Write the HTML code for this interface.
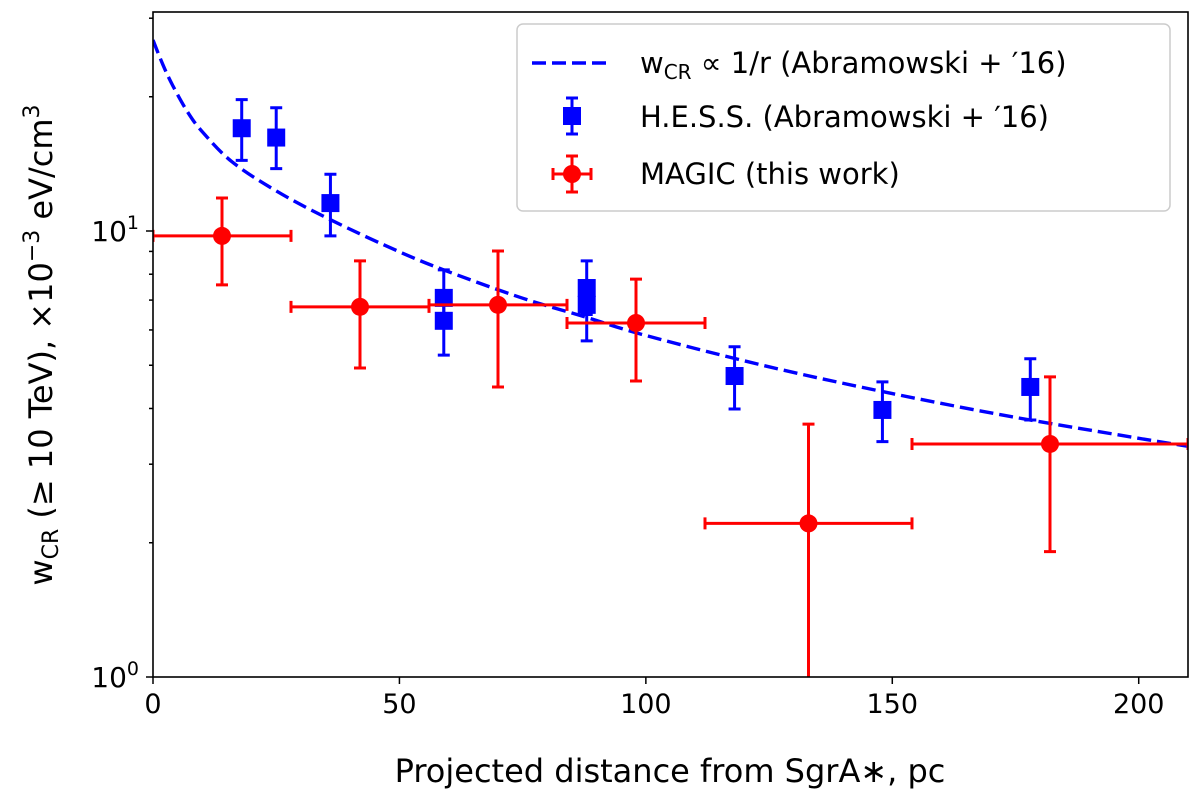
<!DOCTYPE html>
<html><head><meta charset="utf-8"><style>
body{margin:0;background:#fff;}
svg{display:block;font-family:"DejaVu Sans","Liberation Sans",sans-serif;}
</style></head><body>
<svg id="chart" width="1200" height="794">
<g id="plot"></g>
</svg>
<script>
const hessX=[18,25,36,59,59,88,88,118,148,178];
const hessY=[17.0,16.2,11.55,7.08,6.29,7.45,6.83,4.73,3.97,4.47];
const hessHi=[19.7,18.9,13.4,8.18,7.0,8.57,7.6,5.50,4.59,5.17];
const hessLo=[14.4,13.8,9.75,6.3,5.27,6.5,5.67,3.99,3.37,3.77];
const magX=[14,42,70,98,133,182];
const magXlo=[0,28,56,84,112,154];
const magXhi=[28,56,84,112,154,210];
const magY=[9.75,6.76,6.83,6.22,2.21,3.33];
const magHi=[11.86,8.57,9.02,7.80,3.69,4.71];
const magLo=[7.57,4.93,4.47,4.61,0.9,1.91];
const modelR=[0,2,4,7,10,16,25,36,50,60,75,88,100,125,150,175,200,210];
const modelW=[26.8,23.6,21.2,18.5,16.7,14.3,12.3,10.6,8.98,8.1,7.07,6.4,5.83,4.96,4.32,3.82,3.43,3.29];
const xTicks=[0,50,100,150,200];

const L=153,R=1188,T=12,B=677;
const sx=v=>L+(v/210)*(R-L);
const sy=v=>B-Math.log10(v)*446;
const NS="http://www.w3.org/2000/svg";
const svg=document.getElementById('chart');
function mk(t,a,p){const e=document.createElementNS(NS,t);for(const k in a)e.setAttribute(k,a[k]);(p||svg).appendChild(e);return e;}

const defs=mk('defs',{});const cp=mk('clipPath',{id:'c'},defs);mk('rect',{x:L,y:T,width:R-L,height:B-T},cp);
const g=mk('g',{'clip-path':'url(#c)'});



const P=modelR.map((r,i)=>[sx(r),sy(modelW[i])]);
let d='M'+P[0][0]+','+P[0][1];
for(let i=0;i<P.length-1;i++){
 const p0=P[Math.max(0,i-1)],p1=P[i],p2=P[i+1],p3=P[Math.min(P.length-1,i+2)];
 const c1=[p1[0]+(p2[0]-p0[0])/6,p1[1]+(p2[1]-p0[1])/6];
 const c2=[p2[0]-(p3[0]-p1[0])/6,p2[1]-(p3[1]-p1[1])/6];
 d+=`C${c1[0].toFixed(1)},${c1[1].toFixed(1)} ${c2[0].toFixed(1)},${c2[1].toFixed(1)} ${p2[0].toFixed(1)},${p2[1].toFixed(1)}`;
}
const ml=mk('path',{d:d,fill:'none',stroke:'#0000ff','stroke-width':3.4,'stroke-dasharray':'14,6'},g);



hessX.forEach((x,i)=>{
 const cx=sx(x);
 const e=mk('path',{d:`M${cx},${sy(hessHi[i])}V${sy(hessLo[i])}M${cx-6},${sy(hessHi[i])}h12M${cx-6},${sy(hessLo[i])}h12`,stroke:'#0000ff','stroke-width':3,fill:'none'},g);
 
 
 const m=mk('rect',{x:cx-9,y:sy(hessY[i])-9,width:18,height:18,fill:'#0000ff'},g);
 
 
});
magX.forEach((x,i)=>{
 const cx=sx(x),cy=sy(magY[i]);
 const e=mk('path',{d:`M${cx},${sy(magHi[i])}V${sy(magLo[i])}M${cx-6},${sy(magHi[i])}h12M${cx-6},${sy(magLo[i])}h12M${sx(magXlo[i])},${cy}H${sx(magXhi[i])}M${sx(magXlo[i])},${cy-6}v12M${sx(magXhi[i])},${cy-6}v12`,stroke:'#ff0000','stroke-width':3,fill:'none'},g);
 
 
 const m=mk('circle',{cx:cx,cy:cy,r:9,fill:'#ff0000'},g);
 
 
});

const fr=mk('rect',{x:L,y:T,width:R-L,height:B-T,fill:'none',stroke:'#000','stroke-width':1.6});



xTicks.forEach(v=>{
 const x=sx(v);
 mk('line',{x1:x,x2:x,y1:B,y2:B+7,stroke:'#000','stroke-width':1.5});
 const t=mk('text',{x:x,y:B+36,'text-anchor':'middle','font-size':27},svg);t.textContent=v;
 
 
});
for(let dec=0;dec<2;dec++)for(let k=1;k<10;k++){
 const v=k*Math.pow(10,dec);const y=sy(v);if(y<T-1)continue;
 mk('line',{x1:L,x2:L-(k==1?7:4),y1:y,y2:y,stroke:'#000','stroke-width':1.5});
}
[[1,'10','0'],[10,'10','1']].forEach(([v,b,e])=>{
 const t=mk('text',{x:L-14,y:sy(v)+10,'text-anchor':'end','font-size':28});
 t.innerHTML=b+'<tspan dy="-12" font-size="19">'+e+'</tspan>';
 
 
});
const xt=mk('text',{x:670,y:782,'text-anchor':'middle','font-size':32});
xt.textContent='Projected distance from SgrA∗,  pc';


const yt=mk('text',{transform:'translate(52,345) rotate(-90)','text-anchor':'middle','font-size':32});
yt.innerHTML='w<tspan font-size="22" dy="6">CR</tspan><tspan dy="-6"> (≥ 10 TeV),  ×10</tspan><tspan font-size="22" dy="-13">−3</tspan><tspan dy="13"> eV/cm</tspan><tspan font-size="22" dy="-13">3</tspan>';



const lg=mk('g',{});


mk('rect',{x:517,y:24,width:653,height:187,rx:6,fill:'#fff',stroke:'#ccc','stroke-width':1.5},lg);
mk('line',{x1:532,x2:612,y1:63,y2:63,stroke:'#0000ff','stroke-width':3.4,'stroke-dasharray':'14,6'},lg);
mk('path',{d:'M572,98V134M566,98h12M566,134h12',stroke:'#0000ff','stroke-width':3},lg);
mk('rect',{x:563,y:107,width:18,height:18,fill:'#0000ff'},lg);
mk('path',{d:'M572,156V192M566,156h12M566,192h12M553,174H591M553,168v12M591,168v12',stroke:'#ff0000','stroke-width':3,fill:'none'},lg);
mk('circle',{cx:572,cy:174,r:9,fill:'#ff0000'},lg);
const l1=mk('text',{x:640,y:73,'font-size':29},lg);
l1.innerHTML='w<tspan font-size="20" dy="6">CR</tspan><tspan dy="-6">  ∝  1/r (Abramowski + ′16)</tspan>';


const l2=mk('text',{x:640,y:127,'font-size':29},lg);l2.textContent='H.E.S.S. (Abramowski +  ′16)';


const l3=mk('text',{x:640,y:184,'font-size':29},lg);l3.textContent='MAGIC (this work)';


</script>
</body></html>
